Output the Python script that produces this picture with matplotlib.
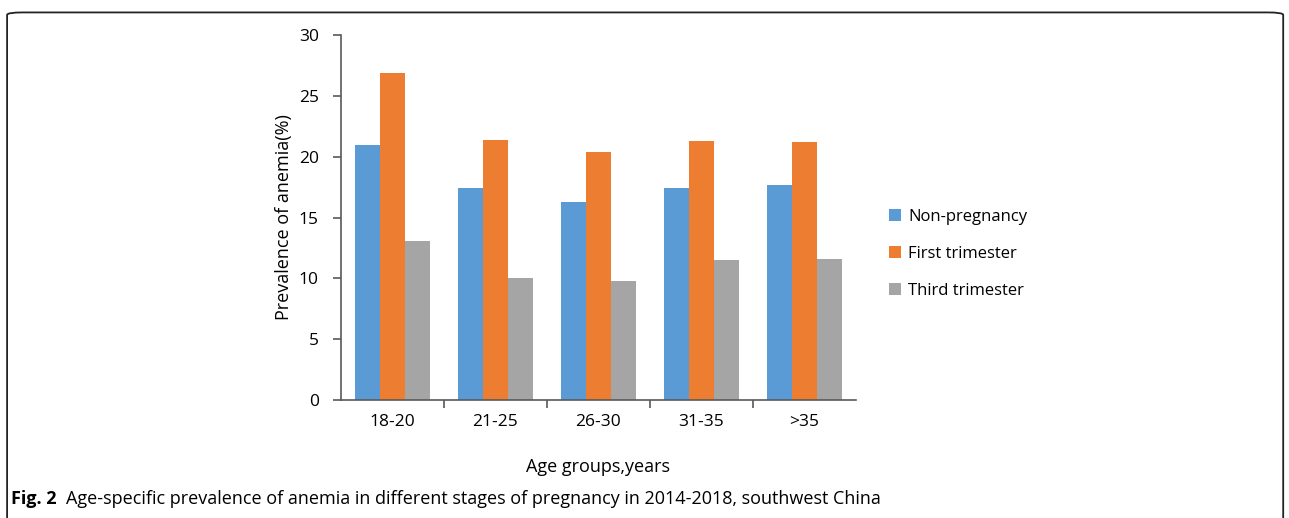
import matplotlib.pyplot as plt
import numpy as np
from matplotlib.patches import FancyBboxPatch

plt.rcParams['font.family'] = ['Open Sans', 'DejaVu Sans']

# Data
age_groups = ["18-20", "21-25", "26-30", "31-35", ">35"]
non_pregnancy = [21.0, 17.4, 16.3, 17.4, 17.7]
first_trimester = [26.9, 21.4, 20.4, 21.3, 21.2]
third_trimester = [13.1, 10.0, 9.8, 11.5, 11.6]

series = [("Non-pregnancy", non_pregnancy, "#5B9BD5"),
          ("First trimester", first_trimester, "#ED7D31"),
          ("Third trimester", third_trimester, "#A5A5A5")]

fig = plt.figure(figsize=(12.89, 5.18), dpi=100)
ax = fig.add_axes([0.2645, 0.2278, 0.3995, 0.7046])

ind = np.arange(len(age_groups))
width = 0.243
for i, (name, vals, col) in enumerate(series):
    ax.bar(ind + (i - 1) * width, vals, width, label=name, color=col, zorder=2)

ax.set_xlim(-0.5, len(age_groups) - 0.5)
ax.set_ylim(0, 30)
ax.set_yticks(range(0, 31, 5))
ax.set_xticks(ind)
ax.set_xticklabels(age_groups)
ax.set_xticks(np.arange(0.5, len(age_groups) - 0.5, 1), minor=True)

gray = "#595959"
for s in ["top", "right"]:
    ax.spines[s].set_visible(False)
for s in ["left", "bottom"]:
    ax.spines[s].set_color(gray)
    ax.spines[s].set_linewidth(1.2)
ax.tick_params(axis="y", length=6, color=gray, width=1.2, labelsize=12.5, pad=10)
ax.tick_params(axis="x", which="major", length=0, labelsize=12.5, pad=10)
ax.tick_params(axis="x", which="minor", length=6, color=gray, width=1.2)

ax.set_ylabel("Prevalence of anemia(%)", fontsize=13, labelpad=4)
ax.set_xlabel("Age groups,years", fontsize=13, labelpad=20)

ax.legend(loc="center left", bbox_to_anchor=(1.035, 0.40), frameon=False,
          fontsize=12, handlelength=0.75, handleheight=0.75,
          handletextpad=0.4, labelspacing=1.25)

# rounded border around figure + caption
box = FancyBboxPatch((0.0055, -0.05), 0.99, 1.026, boxstyle="round,pad=0,rounding_size=0.012",
                     transform=fig.transFigure, fill=False, edgecolor="#222222",
                     linewidth=1.3, mutation_aspect=518 / 1289)
fig.patches.append(box)

fig.text(0.0085, 0.027, "Fig. 2", fontsize=13, fontweight="bold", va="baseline")
fig.text(0.051, 0.027, "Age-specific prevalence of anemia in different stages of pregnancy in 2014-2018, southwest China",
         fontsize=13, va="baseline")

plt.savefig("out.png", dpi=100)
